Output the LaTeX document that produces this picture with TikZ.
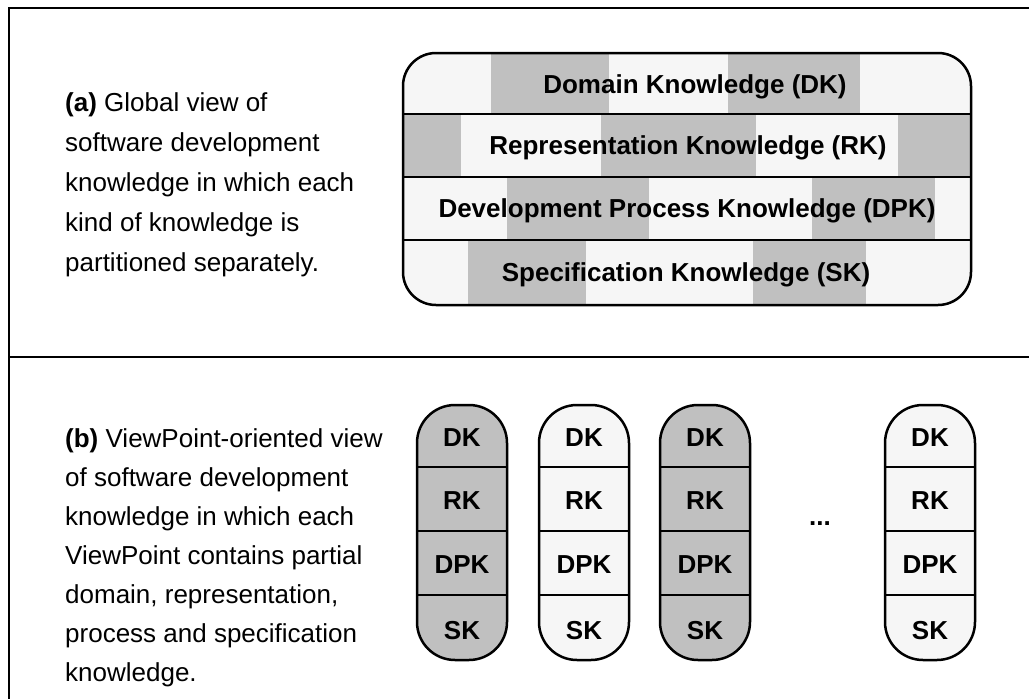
\documentclass[tikz,border=0pt]{standalone}
\usepackage{fontspec}
\setmainfont{Liberation Sans}
\definecolor{gdark}{HTML}{C0C0C0}
\definecolor{glight}{HTML}{F6F6F6}
\begin{document}
\begin{tikzpicture}[x=1pt,y=-1pt,
  lbl/.style={font=\fontsize{26}{26}\selectfont\bfseries, inner sep=0pt},
  paraA/.style={font=\fontsize{26}{40}\selectfont, align=left, anchor=north west, inner sep=0pt},
  paraB/.style={font=\fontsize{26}{39}\selectfont, align=left, anchor=north west, inner sep=0pt},
  outline/.style={line width=2.5pt},
  sepline/.style={line width=2pt}
]
\useasboundingbox (0,0) rectangle (1029,699);
\fill[white] (0,0) rectangle (1029,699);
% frame
\draw[line width=1.5pt] (9,699) -- (9,8) -- (1029,8);
\draw[line width=2.5pt] (9,357) -- (1029,357);

% ---------- part (a) ----------
\node[paraA] (texta) at (65,92) {\textbf{(a)} Global view of\\software development\\knowledge in which each\\kind of knowledge is\\partitioned separately.};

\begin{scope}
\clip[rounded corners=33pt] (403,53) rectangle (971,305);
\fill[glight] (403,53) rectangle (971,305);
% DK row
\fill[gdark] (491,53) rectangle (609,114);
\fill[gdark] (728,53) rectangle (860,114);
% RK row
\fill[gdark] (403,114) rectangle (461,177);
\fill[gdark] (601,114) rectangle (756,177);
\fill[gdark] (898,114) rectangle (971,177);
% DPK row
\fill[gdark] (507,177) rectangle (649,240);
\fill[gdark] (812,177) rectangle (935,240);
% SK row
\fill[gdark] (468,240) rectangle (586,305);
\fill[gdark] (753,240) rectangle (866,305);
\end{scope}
\draw[sepline] (403,114) -- (971,114);
\draw[sepline] (403,177) -- (971,177);
\draw[sepline] (403,240) -- (971,240);
\draw[outline, rounded corners=33pt] (403,53) rectangle (971,305);

\node[lbl] (dk) at (695,87) {Domain Knowledge (DK)};
\node[lbl] (rk) at (688,148) {Representation Knowledge (RK)};
\node[lbl] (dpk) at (687,211) {Development Process Knowledge (DPK)};
\node[lbl] (sk) at (686,275) {Specification Knowledge (SK)};

% ---------- part (b) ----------
\node[paraB] (textb) at (65,428) {\textbf{(b)} ViewPoint-oriented view\\of software development\\knowledge in which each\\ViewPoint contains partial\\domain, representation,\\process and specification\\knowledge.};

\foreach \cx/\fc/\nm in {462/gdark/pa, 584/glight/pb, 705/gdark/pc, 930/glight/pd} {
  \fill[\fc, rounded corners=38pt] ({\cx-45},405) rectangle ({\cx+45},660);
  \draw[sepline] ({\cx-45},467) -- ({\cx+45},467);
  \draw[sepline] ({\cx-45},531) -- ({\cx+45},531);
  \draw[sepline] ({\cx-45},595) -- ({\cx+45},595);
  \draw[outline, rounded corners=38pt] ({\cx-45},405) rectangle ({\cx+45},660);
  \node[lbl] (\nm-dk) at (\cx,438) {DK};
  \node[lbl] (\nm-rk) at (\cx,501) {RK};
  \node[lbl] (\nm-dpk) at (\cx,565) {DPK};
  \node[lbl] (\nm-sk) at (\cx,631) {SK};
}
\node[lbl] (dots) at (820,524) {...};
\end{tikzpicture}
\end{document}
